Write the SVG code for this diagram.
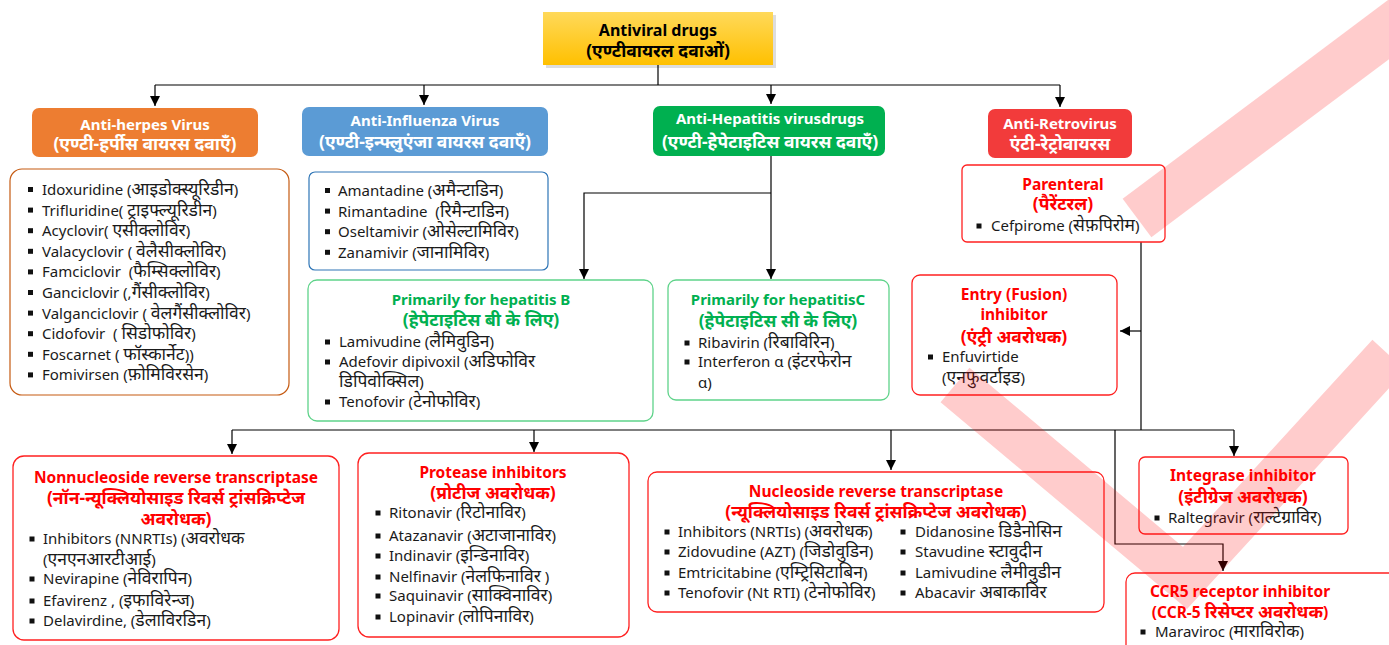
<svg xmlns="http://www.w3.org/2000/svg" width="1389" height="645" viewBox="0 0 1389 645">
<defs>
<linearGradient id="gold" x1="0" y1="0" x2="0" y2="1">
<stop offset="0" stop-color="#FFD95A"/>
<stop offset="1" stop-color="#FFC000"/>
</linearGradient>
<marker id="ah" viewBox="0 0 10 10" refX="10" refY="5" markerWidth="10" markerHeight="10" markerUnits="userSpaceOnUse" orient="auto">
<path d="M0,0 L10,5 L0,10 z" fill="#000"/>
</marker>
<style>
text{font-family:"Noto Sans","Open Sans","Liberation Sans",sans-serif;font-size:15px;white-space:pre}
.it{fill:#1a1a1a}
.hd{fill:#fff;font-weight:bold;text-anchor:middle}
.rt{fill:#ff0000;font-weight:bold;text-anchor:middle;font-size:15.5px}
.gt{fill:#00B050;font-weight:bold;text-anchor:middle}
.bt{fill:#000;font-weight:bold;text-anchor:middle;font-size:16px}
text.d,tspan.d{font-size:17.5px}
.rb{fill:#fff;stroke:#ff2020;stroke-width:1.3}
.gb{fill:#fff;stroke:#5fd38a;stroke-width:1.3}
.ob{fill:#fff;stroke:#c55a11;stroke-width:1.2}
.blb{fill:#fff;stroke:#2e75b6;stroke-width:1.2}
.bu{fill:#111}
.ln{fill:none;stroke:#000;stroke-width:1.2}
.wm{fill:none;stroke:#ff0000;stroke-opacity:0.2}
</style>
</defs>

<g id="title">
<rect x="546" y="15" width="230" height="53" fill="#bbb" opacity="0.5"/>
<rect x="543" y="12" width="230" height="53" fill="url(#gold)"/>
<text class="bt" x="658" y="36">Antiviral drugs</text>
<text class="bt d" x="658" y="57">(एण्टीवायरल दवाओं)</text>
</g>

<g id="connectors">
<path class="ln" d="M658,65 V85"/>
<path class="ln" d="M155,85 H1060"/>
<path class="ln" d="M155,85 V106" marker-end="url(#ah)"/>
<path class="ln" d="M424,85 V105" marker-end="url(#ah)"/>
<path class="ln" d="M771,85 V104" marker-end="url(#ah)"/>
<path class="ln" d="M1060,85 V107" marker-end="url(#ah)"/>
<path class="ln" d="M771,156 V279" marker-end="url(#ah)"/>
<path class="ln" d="M771,193 H584 V279" marker-end="url(#ah)"/>
<path class="ln" d="M1141,242 V430"/>
<path class="ln" d="M1141,331 H1120" marker-end="url(#ah)"/>
<path class="ln" d="M232,430 H1234"/>
<path class="ln" d="M232,430 V454" marker-end="url(#ah)"/>
<path class="ln" d="M534,430 V452" marker-end="url(#ah)"/>
<path class="ln" d="M891,430 V470" marker-end="url(#ah)"/>
<path class="ln" d="M1234,430 V456" marker-end="url(#ah)"/>
<path class="ln" d="M1115,430 V544 H1223 V571" marker-end="url(#ah)"/>
</g>

<g id="herpes-head">
<rect x="32" y="108" width="226" height="49" rx="7" fill="#ED7D31"/>
<text class="hd" x="145" y="130">Anti-herpes Virus</text>
<text class="hd d" x="145" y="150">(एण्टी-हर्पीस वायरस दवाएँ)</text>
</g>

<g id="herpes-list">
<rect class="ob" x="10" y="169" width="279" height="226" rx="12"/>
<g class="bu">
<rect x="28" y="187" width="5" height="5"/><rect x="28" y="207.6" width="5" height="5"/><rect x="28" y="228.2" width="5" height="5"/><rect x="28" y="248.8" width="5" height="5"/><rect x="28" y="269.4" width="5" height="5"/><rect x="28" y="290" width="5" height="5"/><rect x="28" y="310.6" width="5" height="5"/><rect x="28" y="331.2" width="5" height="5"/><rect x="28" y="351.8" width="5" height="5"/><rect x="28" y="372.4" width="5" height="5"/>
</g>
<text class="it" x="42" y="195">Idoxuridine (<tspan class="d">आइडोक्स्यूरिडीन</tspan>)</text>
<text class="it" x="42" y="215.6">Trifluridine( <tspan class="d">ट्राइफ्ल्यूरिडीन</tspan>)</text>
<text class="it" x="42" y="236.2">Acyclovir( <tspan class="d">एसीक्लोविर</tspan>)</text>
<text class="it" x="42" y="256.8">Valacyclovir ( <tspan class="d">वेलैसीक्लोविर</tspan>)</text>
<text class="it" x="42" y="277.4">Famciclovir  (<tspan class="d">फैम्सिक्लोविर</tspan>)</text>
<text class="it" x="42" y="298">Ganciclovir (,<tspan class="d">गैंसीक्लोविर</tspan>)</text>
<text class="it" x="42" y="318.6">Valganciclovir ( <tspan class="d">वेलगैंसीक्लोविर</tspan>)</text>
<text class="it" x="42" y="339.2">Cidofovir  ( <tspan class="d">सिडोफोविर</tspan>)</text>
<text class="it" x="42" y="359.8">Foscarnet ( <tspan class="d">फॉस्कार्नेट</tspan>))</text>
<text class="it" x="42" y="380.4">Fomivirsen (<tspan class="d">फ़ोमिविरसेन</tspan>)</text>
</g>

<g id="influenza-head">
<rect x="302" y="107" width="246" height="49" rx="7" fill="#5B9BD5"/>
<text class="hd" x="425" y="126">Anti-Influenza Virus</text>
<text class="hd d" x="425" y="148">(एण्टी-इन्फ्लुएंजा वायरस दवाएँ)</text>
</g>

<g id="influenza-list">
<rect class="blb" x="309" y="172" width="239" height="98" rx="6"/>
<g class="bu">
<rect x="325" y="188" width="5" height="5"/><rect x="325" y="208.6" width="5" height="5"/><rect x="325" y="229.2" width="5" height="5"/><rect x="325" y="249.8" width="5" height="5"/>
</g>
<text class="it" x="338" y="196">Amantadine (<tspan class="d">अमैन्टाडिन</tspan>)</text>
<text class="it" x="338" y="216.6">Rimantadine  (<tspan class="d">रिमैन्टाडिन</tspan>)</text>
<text class="it" x="338" y="237.2">Oseltamivir (<tspan class="d">ओसेल्टामिविर</tspan>)</text>
<text class="it" x="338" y="257.8">Zanamivir (<tspan class="d">जानामिविर</tspan>)</text>
</g>

<g id="hepatitis-head">
<rect x="653" y="106" width="232" height="50" rx="7" fill="#00B050"/>
<text class="hd" x="770" y="124">Anti-Hepatitis virusdrugs</text>
<text class="hd d" x="770" y="148">(एण्टी-हेपेटाइटिस वायरस दवाएँ)</text>
</g>

<g id="hep-b">
<rect class="gb" x="308" y="280" width="345" height="141" rx="9"/>
<text class="gt" x="481" y="305">Primarily for hepatitis B</text>
<text class="gt d" x="481" y="326">(हेपेटाइटिस बी के लिए)</text>
<g class="bu"><rect x="325" y="339.5" width="5" height="5"/><rect x="325" y="359.5" width="5" height="5"/><rect x="325" y="399.5" width="5" height="5"/></g>
<text class="it" x="339" y="347">Lamivudine (<tspan class="d">लैमिवुडिन</tspan>)</text>
<text class="it" x="339" y="367">Adefovir dipivoxil (<tspan class="d">अडिफोविर</tspan></text>
<text class="it" x="339" y="387"><tspan class="d">डिपिवोक्सिल</tspan>)</text>
<text class="it" x="339" y="407">Tenofovir (<tspan class="d">टेनोफोविर</tspan>)</text>
</g>

<g id="hep-c">
<rect class="gb" x="668" y="280" width="221" height="120" rx="8"/>
<text class="gt" x="778" y="305">Primarily for hepatitisC</text>
<text class="gt d" x="778" y="327">(हेपेटाइटिस सी के लिए)</text>
<g class="bu"><rect x="684.5" y="340.5" width="5" height="5"/><rect x="684.5" y="359.5" width="5" height="5"/></g>
<text class="it" x="698" y="348">Ribavirin (<tspan class="d">रिबाविरिन</tspan>)</text>
<text class="it" x="698" y="367">Interferon α (<tspan class="d">इंटरफेरोन</tspan></text>
<text class="it" x="698" y="388">α)</text>
</g>

<g id="retro-head">
<rect x="988" y="109" width="144" height="49" rx="7" fill="#F23B3B"/>
<text class="hd" x="1060" y="129">Anti-Retrovirus</text>
<text class="hd d" x="1060" y="150">एंटी-रेट्रोवायरस</text>
</g>

<g id="parenteral">
<rect class="rb" x="962" y="165" width="203" height="77" rx="5"/>
<text class="rt" x="1063" y="190">Parenteral</text>
<text class="rt d" x="1063" y="210">(पैरेंटरल)</text>
<rect class="bu" x="976.5" y="223.5" width="5" height="5"/>
<text class="it" x="991" y="231">Cefpirome (<tspan class="d">सेफ़पिरोम</tspan>)</text>
</g>

<g id="entry">
<rect class="rb" x="912" y="275" width="205" height="120" rx="8"/>
<text class="rt" x="1014" y="300">Entry (Fusion)</text>
<text class="rt" x="1014" y="320">inhibitor</text>
<text class="rt d" x="1014" y="343">(एंट्री अवरोधक)</text>
<rect class="bu" x="928" y="354.5" width="5" height="5"/>
<text class="it" x="942" y="362">Enfuvirtide</text>
<text class="it" x="942" y="383">(<tspan class="d">एनफुवर्टाइड</tspan>)</text>
</g>

<g id="nnrti">
<rect class="rb" x="13" y="456" width="326" height="184" rx="11"/>
<text class="rt" x="176" y="483">Nonnucleoside reverse transcriptase</text>
<text class="rt d" x="176" y="504">(नॉन-न्यूक्लियोसाइड रिवर्स ट्रांसक्रिप्टेज</text>
<text class="rt d" x="176" y="525">अवरोधक)</text>
<g class="bu"><rect x="29.5" y="536.5" width="5" height="5"/><rect x="29.5" y="576.5" width="5" height="5"/><rect x="29.5" y="598.5" width="5" height="5"/><rect x="29.5" y="618.5" width="5" height="5"/></g>
<text class="it" x="43" y="544">Inhibitors (NNRTIs) (<tspan class="d">अवरोधक</tspan></text>
<text class="it" x="43" y="565">(<tspan class="d">एनएनआरटीआई</tspan>)</text>
<text class="it" x="43" y="584">Nevirapine (<tspan class="d">नेविरापिन</tspan>)</text>
<text class="it" x="43" y="606">Efavirenz , (<tspan class="d">इफाविरेन्ज</tspan>)</text>
<text class="it" x="43" y="626">Delavirdine, (<tspan class="d">डेलाविरडिन</tspan>)</text>
</g>

<g id="protease">
<rect class="rb" x="358" y="453" width="271" height="184" rx="11"/>
<text class="rt" x="493" y="478">Protease inhibitors</text>
<text class="rt d" x="493" y="499">(प्रोटीज अवरोधक)</text>
<g class="bu"><rect x="375.5" y="510.5" width="5" height="5"/><rect x="375.5" y="533.5" width="5" height="5"/><rect x="375.5" y="553.5" width="5" height="5"/><rect x="375.5" y="574.5" width="5" height="5"/><rect x="375.5" y="593.5" width="5" height="5"/><rect x="375.5" y="614.5" width="5" height="5"/></g>
<text class="it" x="389" y="518">Ritonavir (<tspan class="d">रिटोनाविर</tspan>)</text>
<text class="it" x="389" y="541">Atazanavir (<tspan class="d">अटाजानाविर</tspan>)</text>
<text class="it" x="389" y="561">Indinavir (<tspan class="d">इन्डिनाविर</tspan>)</text>
<text class="it" x="389" y="582">Nelfinavir (<tspan class="d">नेलफिनाविर</tspan> )</text>
<text class="it" x="389" y="601">Saquinavir (<tspan class="d">साक्विनाविर</tspan>)</text>
<text class="it" x="389" y="622">Lopinavir (<tspan class="d">लोपिनाविर</tspan>)</text>
</g>

<g id="nrti">
<rect class="rb" x="648" y="472" width="456" height="140" rx="9"/>
<text class="rt" x="876" y="497">Nucleoside reverse transcriptase</text>
<text class="rt d" x="876" y="518">(न्यूक्लियोसाइड रिवर्स ट्रांसक्रिप्टेज अवरोधक)</text>
<g class="bu"><rect x="664.5" y="529.5" width="5" height="5"/><rect x="664.5" y="549.5" width="5" height="5"/><rect x="664.5" y="570.5" width="5" height="5"/><rect x="664.5" y="590.5" width="5" height="5"/>
<rect x="900.5" y="529.5" width="5" height="5"/><rect x="900.5" y="549.5" width="5" height="5"/><rect x="900.5" y="570.5" width="5" height="5"/><rect x="900.5" y="590.5" width="5" height="5"/></g>
<text class="it" x="678" y="537">Inhibitors (NRTIs) (<tspan class="d">अवरोधक</tspan>)</text>
<text class="it" x="678" y="557">Zidovudine (AZT) (<tspan class="d">जिडोवुडिन</tspan>)</text>
<text class="it" x="678" y="578">Emtricitabine (<tspan class="d">एम्ट्रिसिटाबिन</tspan>)</text>
<text class="it" x="678" y="598">Tenofovir (Nt RTI) (<tspan class="d">टेनोफोविर</tspan>)</text>
<text class="it" x="915" y="537">Didanosine <tspan class="d">डिडैनोसिन</tspan></text>
<text class="it" x="915" y="557">Stavudine <tspan class="d">स्टावुदीन</tspan></text>
<text class="it" x="915" y="578">Lamivudine <tspan class="d">लैमीवुडीन</tspan></text>
<text class="it" x="915" y="598">Abacavir <tspan class="d">अबाकाविर</tspan></text>
</g>

<g id="integrase">
<rect class="rb" x="1139" y="457" width="209" height="77" rx="6"/>
<text class="rt" x="1243" y="481">Integrase inhibitor</text>
<text class="rt d" x="1243" y="503">(इंटीग्रेज अवरोधक)</text>
<rect class="bu" x="1154.5" y="515.5" width="5" height="5"/>
<text class="it" x="1168" y="523">Raltegravir (<tspan class="d">राल्टेग्राविर</tspan>)</text>
</g>

<g id="ccr5">
<rect class="rb" x="1126" y="573" width="280" height="90" rx="9"/>
<text class="rt" x="1240" y="597">CCR5 receptor inhibitor</text>
<text class="rt" x="1240" y="618">(CCR-5 <tspan class="d">रिसेप्टर अवरोधक</tspan>)</text>
<rect class="bu" x="1140.5" y="629.5" width="5" height="5"/>
<text class="it" x="1155" y="637">Maraviroc (<tspan class="d">माराविरोक</tspan>)</text>
</g>

<g id="watermark">
<path class="wm" stroke-width="45" d="M955,385 L1185,578 L1389,355"/>
<path class="wm" stroke-width="48" d="M1137,218 L1420,6"/>
</g>
</svg>
